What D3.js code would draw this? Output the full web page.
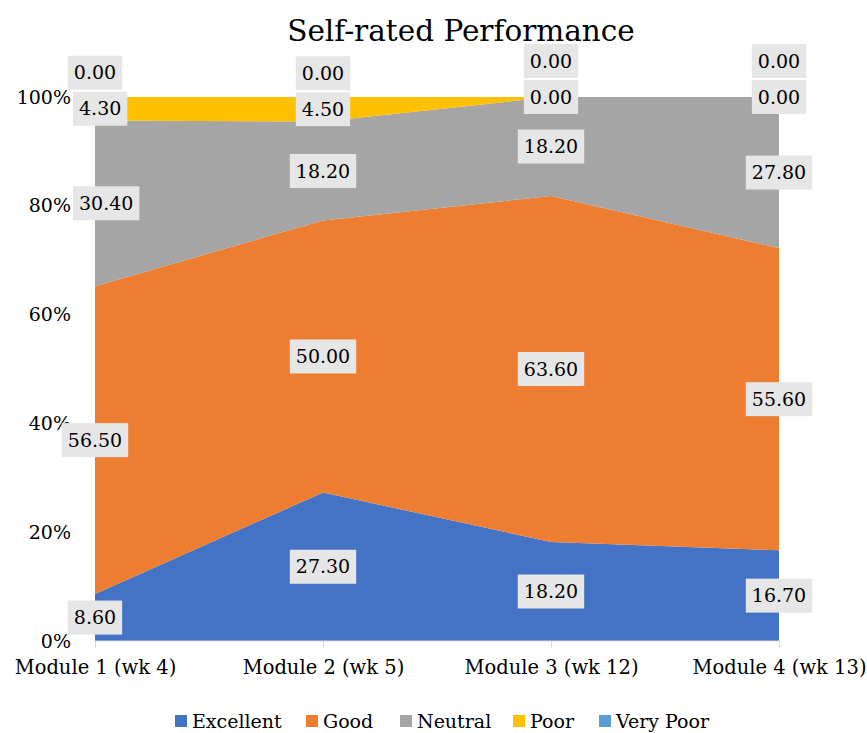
<!DOCTYPE html>
<html lang="en">
<head>
    <meta charset="UTF-8">
    <title>Self-rated Performance</title>
    <style>
        body { margin: 0; background: #fff; }
    </style>
</head>
<body>
    <div id="graphArea"></div>
    <script src="https://d3js.org/d3.v7.min.js"></script>
    <script>
        const modules = ["Module 1 (wk 4)", "Module 2 (wk 5)", "Module 3 (wk 12)", "Module 4 (wk 13)"];
        const ratings = ["Excellent", "Good", "Neutral", "Poor", "Very Poor"];
        const excellent = [8.6, 27.3, 18.2, 16.7];
        const good = [56.5, 50.0, 63.6, 55.6];
        const neutral = [30.4, 18.2, 18.2, 27.8];
        const poor = [4.3, 4.5, 0.0, 0.0];
        const veryPoor = [0.0, 0.0, 0.0, 0.0];
        const yTicks = [0, 0.2, 0.4, 0.6, 0.8, 1];
        const colors = ["#4472C4", "#ED7D31", "#A5A5A5", "#FFC000", "#5B9BD5"];

        const FONT = "'DejaVu Serif', 'Liberation Serif', serif";

        const seriesValues = [excellent, good, neutral, poor, veryPoor];
        const table = modules.map((m, i) => {
            const row = { module: m };
            ratings.forEach((r, j) => row[r] = seriesValues[j][i]);
            return row;
        });

        const width = 867, height = 733;
        const margin = { top: 97, right: 88, bottom: 92, left: 95 };
        const innerW = width - margin.left - margin.right;
        const innerH = height - margin.top - margin.bottom;

        const svg = d3.select("#graphArea")
            .append("svg")
            .attr("width", width)
            .attr("height", height)
            .style("font-family", FONT);

        svg.append("text")
            .attr("x", 461)
            .attr("y", 41)
            .attr("text-anchor", "middle")
            .attr("font-size", "29.5px")
            .style("font-family", FONT)
            .text("Self-rated Performance");

        const g = svg.append("g")
            .attr("transform", `translate(${margin.left}, ${margin.top})`);

        const x = d3.scalePoint()
            .domain(modules)
            .range([0, innerW]);

        const y = d3.scaleLinear()
            .domain([0, 1])
            .range([innerH, 0]);

        const stacked = d3.stack()
            .keys(ratings)
            .offset(d3.stackOffsetExpand)(table);

        const area = d3.area()
            .x(d => x(d.data.module))
            .y0(d => y(d[0]))
            .y1(d => y(d[1]));

        g.selectAll(".layer")
            .data(stacked)
            .join("path")
            .attr("class", "layer")
            .attr("fill", (d, i) => colors[i])
            .attr("d", area);

        // y axis labels
        const tickLabelRight = -24;
        g.append("g")
            .selectAll("text")
            .data(yTicks)
            .join("text")
            .attr("x", tickLabelRight)
            .attr("y", d => y(d))
            .attr("dy", "0.35em")
            .attr("text-anchor", "end")
            .attr("font-size", "19px")
            .style("font-family", FONT)
            .text(d => d3.format(".0%")(d));

        // x axis
        const xAxis = g.append("g")
            .attr("transform", `translate(0, ${innerH})`)
            .call(d3.axisBottom(x).tickSize(7).tickPadding(12));
        xAxis.attr("font-family", null);
        xAxis.select(".domain").attr("stroke", "#d9d9d9").attr("d", `M0,0H${innerW}`);
        xAxis.selectAll(".tick line").attr("stroke", "#d9d9d9");
        xAxis.selectAll(".tick text")
            .attr("font-size", "19.5px")
            .style("font-family", FONT)
            .attr("fill", "#000");

        // data labels (pushed up when they would overlap the one below,
        // and nudged right when they sit on a y tick label)
        const labelH = 34, gap = 2;
        const labelLayer = g.append("g");
        modules.forEach((m, i) => {
            let prevTop = Infinity;
            stacked.forEach((layer, j) => {
                const d = layer[i];
                let cy = y((d[0] + d[1]) / 2);
                if (cy + labelH / 2 > prevTop - gap) cy = prevTop - gap - labelH / 2;
                prevTop = cy - labelH / 2;
                const lg = labelLayer.append("g");
                const rect = lg.append("rect").attr("fill", "#e6e6e6");
                const t = lg.append("text")
                    .attr("text-anchor", "middle")
                    .attr("dy", "0.35em")
                    .attr("font-size", "19px")
                    .style("font-family", FONT)
                    .text(seriesValues[j][i].toFixed(2));
                const bb = t.node().getBBox();
                const w = bb.width + 12;
                let cx = x(m);
                const onTick = yTicks.some(v => Math.abs(y(v) - cy) < 12);
                if (onTick && cx - w / 2 < tickLabelRight + 2) cx = tickLabelRight + 2 + w / 2;
                lg.attr("transform", `translate(${cx}, ${cy})`);
                rect.attr("x", -w / 2).attr("y", -labelH / 2)
                    .attr("width", w).attr("height", labelH);
            });
        });

        // legend
        const legendX = [175, 306, 400, 513, 599];
        const legend = svg.append("g")
            .attr("transform", "translate(0, 721)");
        ratings.forEach((r, i) => {
            legend.append("rect")
                .attr("x", legendX[i])
                .attr("y", -6)
                .attr("width", 12)
                .attr("height", 12)
                .attr("fill", colors[i]);
            legend.append("text")
                .attr("x", legendX[i] + 17)
                .attr("y", 0)
                .attr("dy", "0.35em")
                .attr("font-size", "19px")
                .style("font-family", FONT)
                .text(r);
        });
    </script>
</body>
</html>
